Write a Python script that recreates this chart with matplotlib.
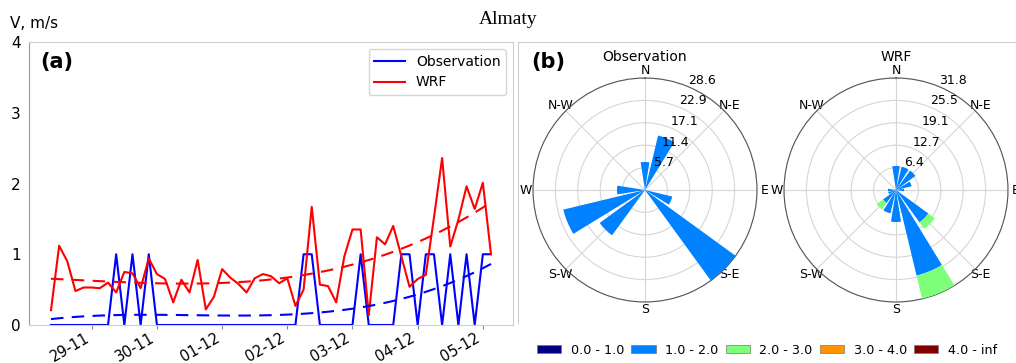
"""Almaty wind speed: time series (a) and wind roses (b), observation vs WRF."""

import matplotlib

matplotlib.use("Agg")
import matplotlib.dates as mdates
import matplotlib.pyplot as plt
import numpy as np
import pandas as pd
from matplotlib.lines import Line2D
from matplotlib.patches import Patch

# 3-hourly series, 28-11 09:00 .. 05-12 03:00
SERIES_START = "2019-11-28 09:00"

obs_speed = [
    0, 0, 0, 0, 0, 0, 0, 0, 1, 0, 1, 0, 1,
    0, 0, 0, 0, 0, 0, 0, 0, 0, 0, 0, 0, 0, 0, 0, 0, 0, 0,
    1, 1, 0, 0, 0, 0, 0, 1, 0, 0, 0, 0,
    1, 1, 0, 1, 1, 0, 1, 0, 1, 0, 1, 1,
]
wrf_speed = [
    0.21, 1.12, 0.90, 0.48, 0.53, 0.53, 0.52, 0.60, 0.46, 0.75, 0.73,
    0.52, 0.94, 0.72, 0.65, 0.32, 0.64, 0.46, 0.92, 0.22, 0.40, 0.79,
    0.67, 0.58, 0.46, 0.66, 0.72, 0.69, 0.59, 0.66, 0.27, 0.50, 1.67,
    0.57, 0.55, 0.32, 0.97, 1.35, 1.35, 0.14, 1.24, 1.14, 1.40, 0.97,
    0.54, 0.65, 0.71, 1.52, 2.36, 1.11, 1.49, 1.96, 1.64, 2.01, 1.00,
]

# wind rose: frequency (%) per 16 direction sectors, N clockwise
directions = ["N", "NNE", "NE", "ENE", "E", "ESE", "SE", "SSE",
              "S", "SSW", "SW", "WSW", "W", "WNW", "NW", "NNW"]
obs_freq_1_2 = [7.143, 14.286, 0, 0, 0, 7.143, 28.571, 0,
                0, 0, 14.286, 21.429, 7.143, 0, 0, 0]
wrf_freq_1_2 = [6.818, 6.818, 6.818, 4.545, 2.273, 0, 11.364, 25.0,
                9.091, 6.818, 4.545, 2.273, 2.273, 0, 0, 0]
wrf_freq_2_3 = [0, 0, 0, 0, 0, 0, 2.273, 6.818,
                0, 0, 2.273, 0, 0, 0, 0, 0]

speed_bins = ["0.0 - 1.0", "1.0 - 2.0", "2.0 - 3.0", "3.0 - 4.0", "4.0 - inf"]
compass_labels = ["N", "N-E", "E", "S-E", "S", "S-W", "W", "N-W"]

W, H = 1016, 363
bin_colors = [plt.cm.jet(v) for v in np.linspace(0, 1, len(speed_bins))]


def fx(px):
    return px / W


def fy(py):
    return 1 - py / H


def trend(values, deg=3):
    idx = np.arange(len(values))
    return np.polyval(np.polyfit(idx, values, deg), idx)


def draw_rose(ax, layers, title):
    theta = np.deg2rad(np.arange(len(directions)) * 22.5)
    width = np.deg2rad(22.5) * 0.8
    bottom = np.zeros(len(directions))
    for values, color in layers:
        values = np.asarray(values, dtype=float)
        ax.bar(theta, values, width=width, bottom=bottom, color=color,
               edgecolor="none", zorder=3)
        bottom = bottom + values
    rmax = bottom.max()
    ax.set_theta_zero_location("N")
    ax.set_theta_direction(-1)
    ax.set_ylim(0, rmax)
    radii = np.linspace(0, rmax, 6)[1:]
    ax.set_yticks(radii)
    ax.set_yticklabels([])
    # radius labels sit on top of the bars, so draw them as texts
    for r in radii:
        ax.text(np.deg2rad(22.5), r, "%.1f" % r, fontsize=9, ha="left",
                va="bottom", zorder=6)
    ax.set_xticks(np.deg2rad(np.arange(0, 360, 45)))
    ax.set_xticklabels(compass_labels, fontsize=9)
    ax.tick_params(axis="x", pad=-5)
    ax.grid(True, color="#d6d6d6", linewidth=0.8)
    ax.spines["polar"].set_color("#555555")
    ax.spines["polar"].set_linewidth(0.8)
    ax.set_title(title, fontsize=10, y=1.04)


fig = plt.figure(figsize=(W / 100, H / 100), dpi=100)

# (a) time series
times = pd.date_range(SERIES_START, periods=len(obs_speed), freq="3h")
ax = fig.add_axes([fx(29), fy(325), fx(513 - 29), (325 - 42) / H])
ax.plot(times, obs_speed, color="blue", linewidth=1.5, label="Observation")
ax.plot(times, wrf_speed, color="red", linewidth=1.5, label="WRF")
ax.plot(times, trend(obs_speed), color="blue", linestyle=(0, (6, 4)), linewidth=1.5)
ax.plot(times, trend(wrf_speed), color="red", linestyle=(0, (6, 4)), linewidth=1.5)
ax.set_ylim(0, 4)
ax.set_yticks([0, 1, 2, 3, 4])
ax.xaxis.set_major_locator(mdates.DayLocator())
ax.xaxis.set_major_formatter(mdates.DateFormatter("%d-%m"))
ax.tick_params(axis="x", labelsize=10.5, rotation=30, length=3, pad=1,
               color="#888888")
ax.tick_params(axis="y", labelsize=11, length=0, pad=6)
for label in ax.get_xticklabels():
    label.set_ha("right")
for side, spine in ax.spines.items():
    spine.set_color("#999999" if side == "left" else "#cfcfcf")
    spine.set_linewidth(0.8)
ax.legend(loc="upper right", fontsize=10, handlelength=2.2)

# (b) wind roses
ax_obs = fig.add_axes([fx(533), fy(302), fx(224), 224 / H], projection="polar")
draw_rose(ax_obs, [(obs_freq_1_2, bin_colors[1])], "Observation")
ax_wrf = fig.add_axes([fx(784), fy(302), fx(224), 224 / H], projection="polar")
draw_rose(ax_wrf, [(wrf_freq_1_2, bin_colors[1]), (wrf_freq_2_3, bin_colors[2])], "WRF")

handles = [Patch(facecolor=c, edgecolor="#777777", linewidth=0.5) for c in bin_colors]
fig.legend(handles, speed_bins, loc="center", bbox_to_anchor=(fx(767), fy(350)),
           ncol=5, frameon=False, fontsize=9.2, handlelength=1.9,
           handleheight=0.6, handletextpad=0.75, columnspacing=0.55)

# panel frame on the right and annotations
frame_kw = dict(color="#cfcfcf", linewidth=0.8, transform=fig.transFigure)
fig.add_artist(Line2D([fx(518), 1], [fy(42), fy(42)], **frame_kw))
fig.add_artist(Line2D([fx(518), fx(518)], [fy(42), fy(323)], **frame_kw))

fig.text(0.5, fy(20), "Almaty", family="Liberation Serif", fontsize=14,
         ha="center", va="center")
fig.text(fx(10), fy(23), "V, m/s", fontsize=11, va="center")
fig.text(fx(40), fy(62), "(a)", fontsize=15, fontweight="bold", va="center")
fig.text(fx(531), fy(62), "(b)", fontsize=15, fontweight="bold", va="center")

fig.savefig("out.png", dpi=100)
